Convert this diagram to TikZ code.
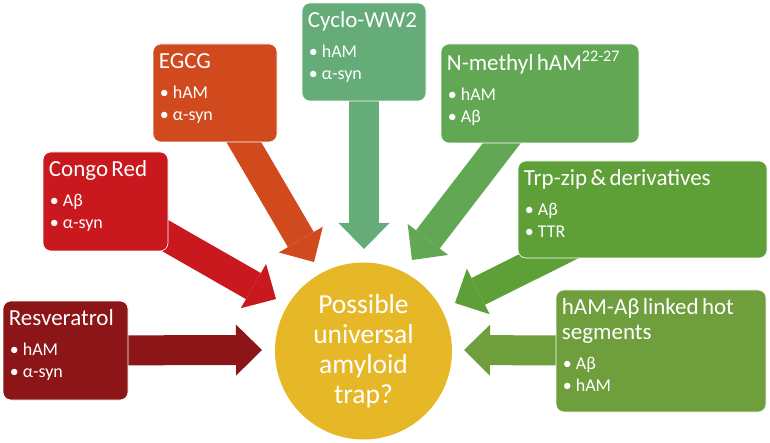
\documentclass[tikz,border=0pt]{standalone}
\usepackage{fontspec}
\setmainfont{Carlito}
\usetikzlibrary{arrows.meta,backgrounds}

\definecolor{cresv}{RGB}{140,21,23}
\definecolor{ccongo}{RGB}{201,24,30}
\definecolor{cegcg}{RGB}{208,74,30}
\definecolor{ccyclo}{RGB}{101,172,120}
\definecolor{cnmeth}{RGB}{98,168,84}
\definecolor{ctrp}{RGB}{94,159,56}
\definecolor{cham}{RGB}{111,158,60}
\definecolor{ctrap}{RGB}{230,184,40}

\setlength{\parindent}{0pt}
\newcommand{\boxtitle}[1]{{\fontsize{23}{25}\selectfont\strut #1\par}\vspace{8pt}}
\newcommand{\bitem}[1]{{\fontsize{18}{22}\selectfont\hspace*{1pt}\textbullet\hspace{4pt}#1\par}}

\tikzset{
	agentbox/.style={rounded corners=8pt, draw=white, line width=0.6pt},
	agenttext/.style={anchor=north west, text width=230pt, align=left, text=white,
		inner xsep=6pt, inner ysep=7.5pt},
	blockarrow/.style={line width=30pt, -{Triangle[length=26pt,width=51pt,line width=0pt]}},
	trapdisc/.style={circle, fill=ctrap, minimum size=177pt, inner sep=0pt, text=white,
		align=center, font=\fontsize{27.5}{30}\selectfont}
}

\begin{document}
\begin{tikzpicture}[x=1pt,y=-1pt]
	\useasboundingbox (0,0) rectangle (770,443);
	% centre
	\node[trapdisc] (trap) at (363.5,351) {Possible\\universal\\amyloid\\trap?};
	% boxes, left to right
	\node[agentbox, fill=cresv, minimum width=125pt, minimum height=99pt] (resv) at (65.5,350.5) {};
	\node[agenttext] (resv-t) at (resv.north west) {\boxtitle{Resveratrol}\bitem{hAM}\bitem{α-syn}};
	\node[agentbox, fill=ccongo, minimum width=125pt, minimum height=99pt] (congo) at (105.5,201.5) {};
	\node[agenttext] (congo-t) at (congo.north west) {\boxtitle{Congo Red}\bitem{Aβ}\bitem{α-syn}};
	\node[agentbox, fill=cegcg, minimum width=124pt, minimum height=98pt] (egcg) at (215,93) {};
	\node[agenttext] (egcg-t) at (egcg.north west) {\boxtitle{EGCG}\bitem{hAM}\bitem{α-syn}};
	\node[agentbox, fill=ccyclo, minimum width=124pt, minimum height=98pt] (cyclo) at (364,52) {};
	\node[agenttext] (cyclo-t) at (cyclo.north west) {\boxtitle{Cyclo-WW2}\bitem{hAM}\bitem{α-syn}};
	\node[agentbox, fill=cnmeth, minimum width=198pt, minimum height=99pt] (nmeth) at (540,93.5) {};
	\node[agenttext] (nmeth-t) at (nmeth.north west) {\boxtitle{N-methyl hAM\textsuperscript{22-27}}\bitem{hAM}\bitem{Aβ}};
	\node[agentbox, fill=ctrp, minimum width=249pt, minimum height=97pt] (trp) at (642.5,209.5) {};
	\node[agenttext] (trp-t) at (trp.north west) {\boxtitle{Trp-zip \& derivatives}\bitem{Aβ}\bitem{TTR}};
	\node[agentbox, fill=cham, minimum width=210pt, minimum height=122pt] (ham) at (661,351) {};
	\node[agenttext] (ham-t) at (ham.north west) {\boxtitle{hAM-Aβ linked hot\\segments}\bitem{Aβ}\bitem{hAM}};
	% arrow tips
	\coordinate (resv-tip) at (262,350);
	\coordinate (congo-tip) at (276,299);
	\coordinate (egcg-tip) at (314,262);
	\coordinate (cyclo-tip) at (364,249);
	\coordinate (nmeth-tip) at (412,260);
	\coordinate (trp-tip) at (455,303);
	\coordinate (ham-tip) at (464,350);
	\begin{scope}[on background layer]
		\draw[blockarrow, cresv] (resv.center) -- (resv-tip);
		\draw[blockarrow, ccongo] (congo.center) -- (congo-tip);
		\draw[blockarrow, cegcg] (egcg.center) -- (egcg-tip);
		\draw[blockarrow, ccyclo] (cyclo.center) -- (cyclo-tip);
		\draw[blockarrow, cnmeth] (nmeth.center) -- (nmeth-tip);
		\draw[blockarrow, ctrp] (trp.center) -- (trp-tip);
		\draw[blockarrow, cham] (ham.center) -- (ham-tip);
	\end{scope}
\end{tikzpicture}
\end{document}
